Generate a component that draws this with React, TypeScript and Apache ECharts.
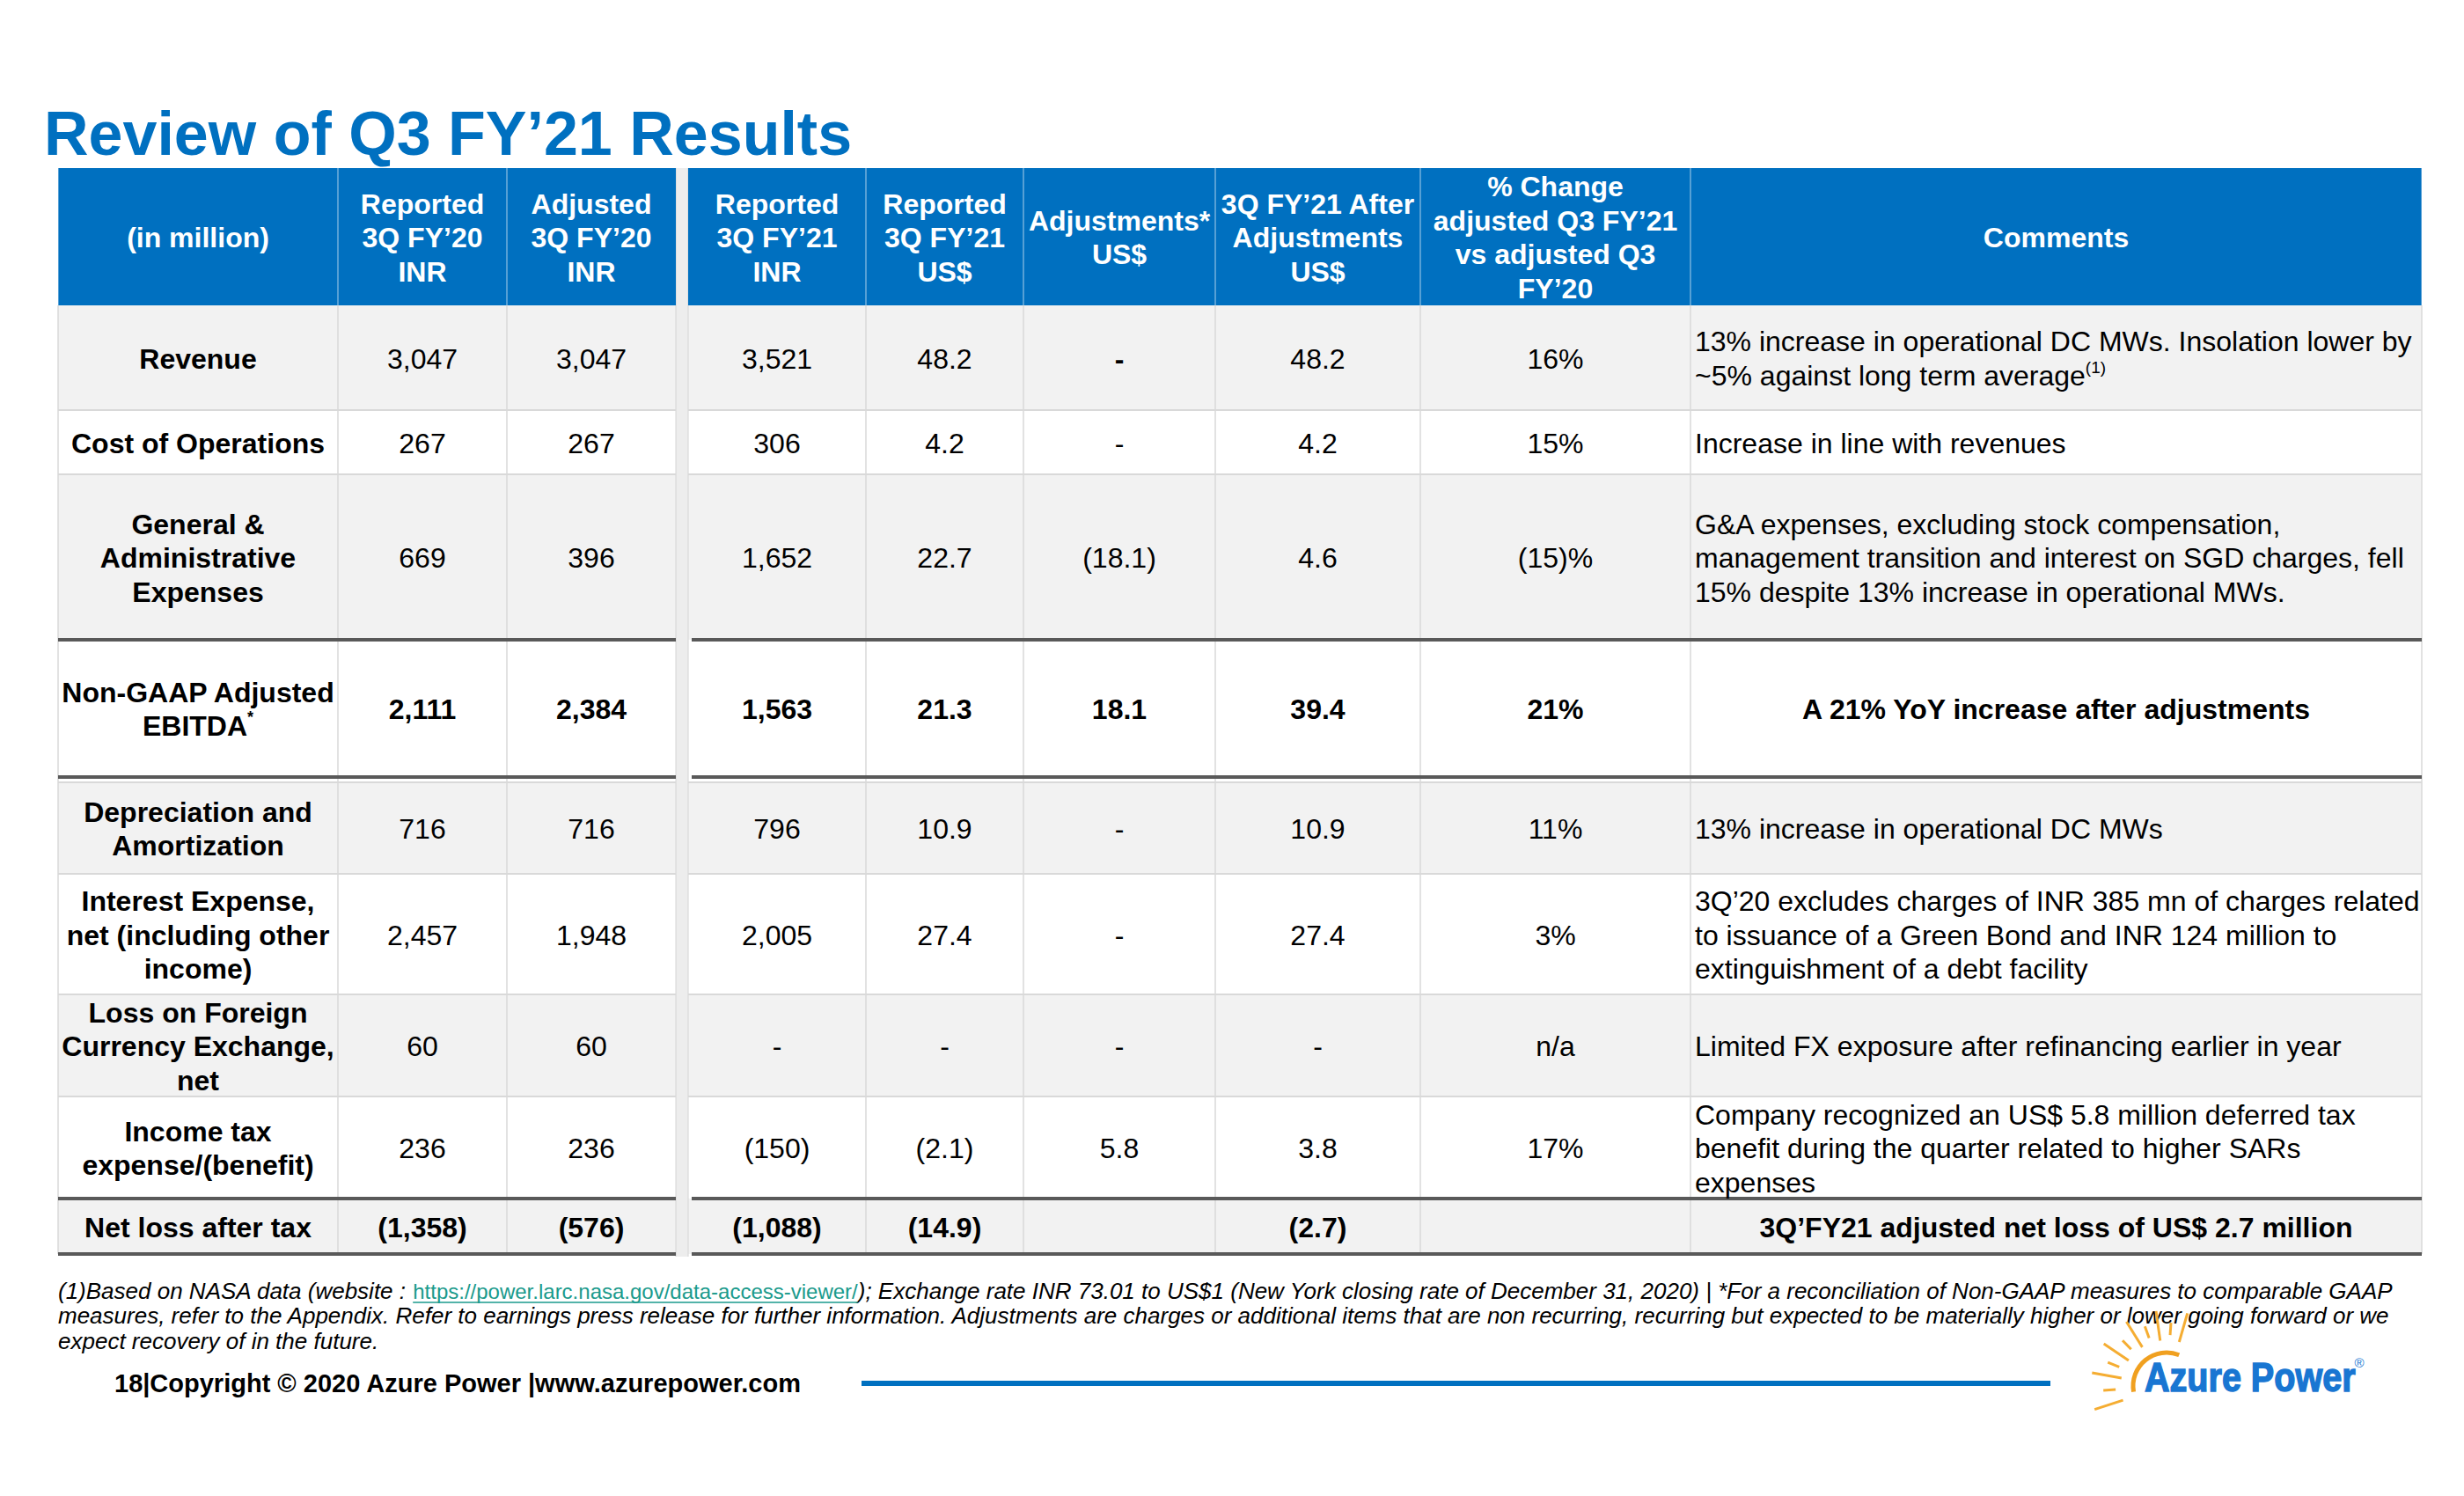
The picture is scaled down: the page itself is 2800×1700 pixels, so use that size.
import React, { useEffect, useRef } from "react";
import * as echarts from "echarts";

// ---------- DATA ----------
const titleText = "Review of Q3 FY’21 Results";
const unitLabel = "(in million)";
const columnHeaders = [
  "Reported\n3Q FY’20\nINR",
  "Adjusted\n3Q FY’20\nINR",
  "Reported\n3Q FY’21\nINR",
  "Reported\n3Q FY’21\nUS$",
  "Adjustments*\nUS$",
  "3Q FY’21 After\nAdjustments\nUS$",
  "% Change\nadjusted Q3 FY’21\nvs adjusted Q3\nFY’20",
];
const commentsHeader = "Comments";
const rowLabels = [
  "Revenue",
  "Cost of Operations",
  "General &\nAdministrative\nExpenses",
  "Non-GAAP Adjusted\nEBITDA{s|*}",
  "Depreciation and\nAmortization",
  "Interest Expense,\nnet (including other\nincome)",
  "Loss on Foreign\nCurrency Exchange,\nnet",
  "Income tax\nexpense/(benefit)",
  "Net loss after tax",
];
const reportedFY20INR = ["3,047", "267", "669", "2,111", "716", "2,457", "60", "236", "(1,358)"];
const adjustedFY20INR = ["3,047", "267", "396", "2,384", "716", "1,948", "60", "236", "(576)"];
const reportedFY21INR = ["3,521", "306", "1,652", "1,563", "796", "2,005", "-", "(150)", "(1,088)"];
const reportedFY21USD = ["48.2", "4.2", "22.7", "21.3", "10.9", "27.4", "-", "(2.1)", "(14.9)"];
const adjustmentsUSD = ["-", "-", "(18.1)", "18.1", "-", "-", "-", "5.8", ""];
const afterAdjFY21USD = ["48.2", "4.2", "4.6", "39.4", "10.9", "27.4", "-", "3.8", "(2.7)"];
const pctChange = ["16%", "15%", "(15)%", "21%", "11%", "3%", "n/a", "17%", ""];
const comments = [
  "13% increase in operational DC MWs. Insolation lower by\n~5% against long term average{s|(1)}",
  "Increase in line with revenues",
  "G&A expenses, excluding stock compensation,\nmanagement transition and interest on SGD charges, fell\n15% despite 13% increase in operational MWs.",
  "A 21% YoY increase after adjustments",
  "13% increase in operational DC MWs",
  "3Q’20 excludes charges of INR 385 mn of charges related\nto issuance of a Green Bond and INR 124 million to\nextinguishment of a debt facility",
  "Limited FX exposure after refinancing earlier in year",
  "Company recognized an US$ 5.8 million deferred tax\nbenefit during the quarter related to higher SARs\nexpenses",
  "3Q’FY21 adjusted net loss of US$ 2.7 million",
];
const footPrefix = "(1)Based on NASA data (website : ";
const footUrl = "https://power.larc.nasa.gov/data-access-viewer/";
const footRest =
  "); Exchange rate INR 73.01 to US$1 (New York closing rate of December 31, 2020) | *For a reconciliation of Non-GAAP measures to comparable GAAP";
const footLine2 =
  "measures, refer to the Appendix. Refer to earnings press release for further information. Adjustments are charges or additional items that are non recurring, recurring but expected to be materially higher or lower going forward or we";
const footLine3 = "expect recovery of in the future.";
const footerText = "18|Copyright © 2020 Azure Power |www.azurepower.com";
const logoText = "Azure Power";

const valueColumns = [
  reportedFY20INR,
  adjustedFY20INR,
  reportedFY21INR,
  reportedFY21USD,
  adjustmentsUSD,
  afterAdjFY21USD,
  pctChange,
];

const FONT = "Arial, 'Liberation Sans', Helvetica, sans-serif";

export default function App() {
  const ref = useRef<HTMLDivElement>(null);

  useEffect(() => {
    document.body.style.margin = "0";
    const chart = echarts.init(ref.current!, null, { renderer: "svg" });

    const BLUE = "#0070C0";
    const GRAY = "#F2F2F2";
    const GRID = "#D9D9D9";
    const DARK = "#595959";
    const FS = 32;
    const LH = 38.5;

    const X0 = 66, XL = 768, XR = 782, X1 = 2752;
    const colBounds = [
      [66, 384],
      [384, 576],
      [576, 768],
      [782, 984],
      [984, 1163],
      [1163, 1381],
      [1381, 1614],
      [1614, 1921],
      [1921, 2752],
    ];
    const headTop = 191, headBot = 347;
    const rowBounds = [
      [347, 466],
      [466, 539],
      [539, 727],
      [727, 883],
      [889, 993],
      [993, 1130],
      [1130, 1246],
      [1246, 1362],
      [1362, 1425],
    ];
    const emphasis = new Set([3, 8]);

    const els: any[] = [];
    const rect = (x: number, y: number, w: number, h: number, fill: string) =>
      els.push({ type: "rect", silent: true, shape: { x, y, width: w, height: h }, style: { fill } });
    const line = (x1: number, y1: number, x2: number, y2: number, stroke: string, lw: number) =>
      els.push({
        type: "line",
        silent: true,
        shape: { x1, y1, x2, y2 },
        style: { stroke, lineWidth: lw },
      });
    const text = (s: string, x: number, y: number, o: any = {}) =>
      els.push({
        type: "text",
        silent: true,
        x,
        y,
        style: {
          text: s,
          fill: o.fill || "#000",
          fontSize: o.fontSize || FS,
          fontWeight: o.bold ? "bold" : "normal",
          fontStyle: o.italic ? "italic" : "normal",
          fontFamily: FONT,
          align: o.align || "center",
          verticalAlign: "middle",
          lineHeight: o.lineHeight || LH,
          rich: o.rich,
        },
      });

    // title
    text(titleText, 50, 152, { fontSize: 70, bold: true, fill: BLUE, align: "left", lineHeight: 80 });

    // row backgrounds
    rowBounds.forEach(([t, b], i) => {
      const fill = i % 2 === 0 ? GRAY : "#FFFFFF";
      rect(X0, t, XL - X0, b - t, fill);
      rect(XR, t, X1 - XR, b - t, fill);
    });
    // gap strip
    rect(XL, headTop, XR - XL, 1428 - headTop, "#EDEDED");
    line(XL, headTop, XL, 1428, "#D4D4D4", 1);
    line(XR, headTop, XR, 1428, "#D4D4D4", 1);

    // header
    rect(X0, headTop, XL - X0, headBot - headTop, BLUE);
    rect(XR, headTop, X1 - XR, headBot - headTop, BLUE);

    // horizontal light lines
    const thickAt = new Set([727, 883, 1362, 1425]);
    rowBounds.forEach(([t]) => {
      if (!thickAt.has(t) && t !== headBot) {
        line(X0, t, XL, t, GRID, 2);
        line(XR, t, X1, t, GRID, 2);
      }
    });
    // vertical grid lines
    const vx = [66, 384, 576, 984, 1163, 1381, 1614, 1921, 2752];
    vx.forEach((x) => {
      line(x, headBot, x, 1425, GRID, 1.5);
      line(x, headTop, x, headBot, "rgba(255,255,255,0.45)", 1.5);
    });
    // thick lines
    [727, 883, 1362, 1425].forEach((y) => {
      line(X0, y, XL, y, DARK, 4);
      line(786, y, X1, y, DARK, 4);
    });

    // header texts
    const hc = (headTop + headBot) / 2 + 1;
    text(unitLabel, (colBounds[0][0] + colBounds[0][1]) / 2, hc, { bold: true, fill: "#fff" });
    columnHeaders.forEach((h, i) => {
      const [a, b] = colBounds[i + 1];
      text(h, (a + b) / 2, hc, { bold: true, fill: "#fff" });
    });
    text(commentsHeader, (colBounds[8][0] + colBounds[8][1]) / 2, hc, { bold: true, fill: "#fff" });

    // body
    rowBounds.forEach(([t, b], r) => {
      const cy = (t + b) / 2 + 1;
      const bold = emphasis.has(r);
      text(rowLabels[r], (colBounds[0][0] + colBounds[0][1]) / 2, cy, {
        bold: true,
        rich: { s: { fontSize: 18, fontWeight: "bold", fontFamily: FONT, fill: "#000", verticalAlign: "top", lineHeight: 18 } },
      });
      valueColumns.forEach((col, c) => {
        const [a, bb] = colBounds[c + 1];
        if (col[r]) text(col[r], (a + bb) / 2, cy, { bold: bold || (r === 0 && c === 4) });
      });
      const [ca, cb] = colBounds[8];
      if (bold) {
        text(comments[r], (ca + cb) / 2, cy, { bold: true });
      } else {
        text(comments[r], ca + 5, cy, {
          align: "left",
          rich: { s: { fontSize: 19, fontFamily: FONT, fill: "#000", verticalAlign: "top", lineHeight: 19 } },
        });
      }
    });

    // footnotes
    const FN = 26;
    const FU = 24;
    const ctx = document.createElement("canvas").getContext("2d")!;
    ctx.font = `italic ${FN}px ${FONT}`;
    const wPrefix = ctx.measureText(footPrefix).width;
    ctx.font = `${FU}px ${FONT}`;
    const wUrl = ctx.measureText(footUrl).width;
    text(`{i|${footPrefix}}{u|${footUrl}}{i|${footRest}}`, 66, 1467, {
      align: "left",
      italic: true,
      fontSize: FN,
      lineHeight: 29,
      rich: {
        i: { fontSize: FN, fontStyle: "italic", fontFamily: FONT, fill: "#000" },
        u: { fontSize: FU, fontStyle: "normal", fontFamily: FONT, fill: "#1A9A8C" },
      },
    });
    line(66 + wPrefix, 1480, 66 + wPrefix + wUrl, 1480, "#1A9A8C", 1.5);
    text(footLine2, 66, 1495, { align: "left", italic: true, fontSize: FN, lineHeight: 29 });
    text(footLine3, 66, 1524, { align: "left", italic: true, fontSize: FN, lineHeight: 29 });

    // footer
    text(footerText, 130, 1572, { align: "left", bold: true, fontSize: 29 });
    rect(979, 1569, 2330 - 979, 6, BLUE);

    // logo: sun rays + arc + text
    const scx = 2462, scy = 1575;
    const rayAngles = [162, 176, 190, 202, 214, 226, 238, 250, 262, 274, 286];
    rayAngles.forEach((deg, k) => {
      const a = (deg * Math.PI) / 180;
      const r0 = k % 2 === 0 ? 52 : 58;
      const r1 = k % 2 === 0 ? 86 : 72;
      line(scx + r0 * Math.cos(a), scy + r0 * Math.sin(a), scx + r1 * Math.cos(a), scy + r1 * Math.sin(a), "#F5AD32", 3);
    });
    els.push({
      type: "arc",
      silent: true,
      shape: { cx: scx, cy: scy, r: 38, startAngle: (170 * Math.PI) / 180, endAngle: (292 * Math.PI) / 180, clockwise: true },
      style: { stroke: "#F0A020", lineWidth: 5, fill: "none" },
    });
    els.push({
      type: "text",
      silent: true,
      x: 2437,
      y: 1565,
      scaleX: 0.86,
      style: {
        text: logoText,
        fill: "#1976D2",
        fontSize: 46,
        fontWeight: 900,
        fontFamily: FONT,
        align: "left",
        verticalAlign: "middle",
        stroke: "#1976D2",
        lineWidth: 1.5,
      },
    });
    text("®", 2681, 1548, { fontSize: 15, fill: "#1976D2", lineHeight: 16 });

    chart.setOption({ animation: false, graphic: { elements: els } });
    return () => chart.dispose();
  }, []);

  return <div ref={ref} style={{ width: 2800, height: 1700 }} />;
}
